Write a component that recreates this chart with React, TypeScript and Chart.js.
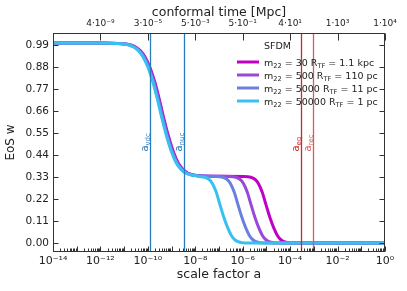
import React, { useEffect, useRef } from 'react';
import { Chart, registerables } from 'chart.js';

Chart.register(...registerables);

const FONT = "'DejaVu Sans', sans-serif";

// ---- data ----
const seriesLabels = [
  'm_{22} = 30 R_{TF} = 1.1 kpc',
  'm_{22} = 500 R_{TF} = 110 pc',
  'm_{22} = 5000 R_{TF} = 11 pc',
  'm_{22} = 50000 R_{TF} = 1 pc',
];
const seriesColors = ['#c000c4', '#9a48d8', '#6a80e0', '#38c0f0'];

// log10(scale factor) and EoS w
const m30LogA = [-14, -12, -11.22, -10.92, -10.72, -10.52, -10.32, -10.12, -9.92, -9.72, -9.52, -9.32, -9.12, -8.92, -8.72, -8.52, -8.32, -8.12, -7.92, -7.4, -5.94, -5.66, -5.5, -5.34, -5.18, -5.02, -4.86, -4.7, -4.54, -4.38, -4.22, -3.94, -2, 0];
const m30W = [1.0, 1.0, 0.998, 0.995, 0.99, 0.98, 0.962, 0.93, 0.88, 0.81, 0.72, 0.62, 0.53, 0.455, 0.4, 0.368, 0.35, 0.341, 0.337, 0.334, 0.333, 0.329, 0.32, 0.298, 0.255, 0.192, 0.13, 0.078, 0.038, 0.015, 0.005, 0.0, 0.0, 0.0];

const m500LogA = [-14, -12, -11.25, -10.95, -10.75, -10.55, -10.35, -10.15, -9.95, -9.75, -9.55, -9.35, -9.15, -8.95, -8.75, -8.55, -8.35, -8.15, -7.95, -7.4, -6.57, -6.29, -6.13, -5.97, -5.81, -5.65, -5.49, -5.33, -5.17, -5.01, -4.85, -4.57, -2, 0];
const m500W = [1.0, 1.0, 0.998, 0.995, 0.99, 0.98, 0.962, 0.93, 0.88, 0.81, 0.72, 0.62, 0.53, 0.455, 0.4, 0.368, 0.35, 0.341, 0.337, 0.334, 0.333, 0.329, 0.32, 0.298, 0.255, 0.192, 0.13, 0.078, 0.038, 0.015, 0.005, 0.0, 0.0, 0.0];

const m5000LogA = [-14, -12, -11.28, -10.98, -10.78, -10.58, -10.38, -10.18, -9.98, -9.78, -9.58, -9.38, -9.18, -8.98, -8.78, -8.58, -8.38, -8.18, -7.98, -7.6, -7.12, -6.84, -6.68, -6.52, -6.36, -6.2, -6.04, -5.88, -5.72, -5.56, -5.4, -5.12, -2, 0];
const m5000W = [1.0, 1.0, 0.998, 0.995, 0.99, 0.98, 0.962, 0.93, 0.88, 0.81, 0.72, 0.62, 0.53, 0.455, 0.4, 0.368, 0.35, 0.341, 0.337, 0.334, 0.333, 0.329, 0.32, 0.298, 0.255, 0.192, 0.13, 0.078, 0.038, 0.015, 0.005, 0.0, 0.0, 0.0];

const m50000LogA = [-14, -12, -11.3, -11, -10.8, -10.6, -10.4, -10.2, -10.0, -9.8, -9.6, -9.4, -9.2, -9.0, -8.8, -8.6, -8.4, -8.2, -8.0, -7.88, -7.6, -7.44, -7.28, -7.12, -6.96, -6.8, -6.64, -6.48, -6.32, -6.16, -5.88, -2, 0];
const m50000W = [1.0, 1.0, 0.998, 0.995, 0.99, 0.98, 0.962, 0.93, 0.88, 0.81, 0.72, 0.62, 0.53, 0.455, 0.4, 0.368, 0.35, 0.341, 0.337, 0.333, 0.329, 0.32, 0.298, 0.255, 0.192, 0.13, 0.078, 0.038, 0.015, 0.005, 0.0, 0.0, 0.0];

const seriesLogA = [m30LogA, m500LogA, m5000LogA, m50000LogA];
const seriesW = [m30W, m500W, m5000W, m50000W];

const yTicks = [0, 0.11, 0.22, 0.33, 0.44, 0.55, 0.66, 0.77, 0.88, 0.99];
const bottomTickExps = [-14, -13, -12, -11, -10, -9, -8, -7, -6, -5, -4, -3, -2, -1, 0];
const topTickExps = [-12, -10, -8, -6, -4, -2, 0];
const topTickLabels = ['4·10⁻⁹', '3·10⁻⁵', '5·10⁻³', '5·10⁻¹', '4·10¹', '1·10³', '1·10⁴'];

const eventA = [1.23e-10, 3.2e-9, 2.87e-4, 9.5e-4];
const eventLabels = ['a_{νdc}', 'a_{nuc}', 'a_{eq}', 'a_{rec}'];
const eventColors = ['#2a7bbd', '#2a7bbd', '#cc2a2a', '#de5a5a'];

const legendTitle = 'SFDM';
const xTitle = 'scale factor a';
const x2Title = 'conformal time [Mpc]';
const yTitle = 'EoS w';

// ---- helpers ----
const SUP: Record<string, string> = { '-': '⁻', '0': '⁰', '1': '¹', '2': '²', '3': '³', '4': '⁴', '5': '⁵', '6': '⁶', '7': '⁷', '8': '⁸', '9': '⁹' };
const sup = (s: string) => s.split('').map((c) => SUP[c] ?? c).join('');

function parseRich(s: string) {
  const parts: { t: string; sub: boolean }[] = [];
  const re = /_\{([^}]*)\}/g;
  let last = 0;
  let m;
  while ((m = re.exec(s))) {
    if (m.index > last) parts.push({ t: s.slice(last, m.index), sub: false });
    parts.push({ t: m[1], sub: true });
    last = m.index + m[0].length;
  }
  if (last < s.length) parts.push({ t: s.slice(last), sub: false });
  return parts;
}

function drawRich(ctx: CanvasRenderingContext2D, s: string, x: number, y: number, fs: number, color: string) {
  ctx.fillStyle = color;
  ctx.textBaseline = 'alphabetic';
  ctx.textAlign = 'left';
  let cx = x;
  for (const p of parseRich(s)) {
    const size = p.sub ? fs * 0.7 : fs;
    ctx.font = `${size}px ${FONT}`;
    ctx.fillText(p.t, cx, p.sub ? y + fs * 0.22 : y);
    cx += ctx.measureText(p.t).width;
  }
}

const decorPlugin = {
  id: 'decor',
  afterDatasetsDraw(chart: any) {
    const { ctx, chartArea: ca, scales } = chart;
    const xs = scales.x;
    const ys = scales.y;
    ctx.save();
    // vertical event lines
    eventA.forEach((a, i) => {
      const px = Math.round(xs.getPixelForValue(a)) + 0.5;
      ctx.strokeStyle = eventColors[i];
      ctx.lineWidth = 1.3;
      ctx.beginPath();
      ctx.moveTo(px, ca.top);
      ctx.lineTo(px, ca.bottom);
      ctx.stroke();
      ctx.save();
      ctx.translate(px - 2.5, ys.getPixelForValue(0.457));
      ctx.rotate(-Math.PI / 2);
      drawRich(ctx, eventLabels[i], 0, 0, 10, eventColors[i]);
      ctx.restore();
    });

    // legend
    const lx = ca.right - 148;
    const ty = ca.top + 14;
    ctx.font = `9.5px ${FONT}`;
    ctx.fillStyle = '#222';
    ctx.textBaseline = 'middle';
    ctx.textAlign = 'left';
    ctx.fillText(legendTitle, lx + 27, ty);
    seriesLabels.forEach((lab, i) => {
      const ry = ty + 15 + i * 13;
      ctx.strokeStyle = seriesColors[i];
      ctx.lineWidth = 3;
      ctx.beginPath();
      ctx.moveTo(lx, ry);
      ctx.lineTo(lx + 22, ry);
      ctx.stroke();
      drawRich(ctx, lab, lx + 27, ry + 3.5, 9.5, '#222');
    });

    // frame
    ctx.strokeStyle = '#333';
    ctx.lineWidth = 1;
    const L = Math.round(ca.left) + 0.5, R = Math.round(ca.right) - 0.5, T = Math.round(ca.top) + 0.5, B = Math.round(ca.bottom) - 0.5;
    ctx.strokeRect(L, T, R - L, B - T);

    ctx.beginPath();
    bottomTickExps.forEach((e) => {
      const px = Math.round(xs.getPixelForValue(Math.pow(10, e))) + 0.5;
      ctx.moveTo(px, B);
      ctx.lineTo(px, B - 5);
      if (e < 0) {
        for (let k = 2; k <= 9; k++) {
          const mx = Math.round(xs.getPixelForValue(k * Math.pow(10, e))) + 0.5;
          ctx.moveTo(mx, B);
          ctx.lineTo(mx, B - 3);
        }
      }
    });
    topTickExps.forEach((e) => {
      const px = Math.round(xs.getPixelForValue(Math.pow(10, e))) + 0.5;
      ctx.moveTo(px, T);
      ctx.lineTo(px, T + 7);
    });
    yTicks.forEach((v) => {
      const py = Math.round(ys.getPixelForValue(v)) + 0.5;
      ctx.moveTo(L, py);
      ctx.lineTo(L + 5, py);
      ctx.moveTo(R, py);
      ctx.lineTo(R - 5, py);
    });
    ctx.stroke();
    ctx.restore();
  },
};

export default function App() {
  const ref = useRef<HTMLCanvasElement>(null);
  useEffect(() => {
    document.body.style.margin = '0';
    const canvas = ref.current!;
    const datasets = seriesLabels.map((lab, i) => ({
      label: lab,
      data: seriesLogA[i].map((e, j) => ({ x: Math.pow(10, e), y: seriesW[i][j] })),
      borderColor: seriesColors[i],
      backgroundColor: seriesColors[i],
      borderWidth: 3,
      pointRadius: 0,
      cubicInterpolationMode: 'monotone' as const,
      fill: false,
      order: seriesLabels.length - 1 - i,
      xAxisID: 'x',
      yAxisID: 'y',
    }));
    const chart = new Chart(canvas, {
      type: 'line',
      data: { datasets },
      plugins: [decorPlugin],
      options: {
        animation: false,
        responsive: false,
        devicePixelRatio: 1,
        layout: { padding: { left: 0, right: 22, top: 0, bottom: 0 } },
        plugins: { legend: { display: false }, tooltip: { enabled: false } },
        scales: {
          x: {
            type: 'logarithmic',
            position: 'bottom',
            min: 1e-14,
            max: 1,
            afterBuildTicks: (s: any) => {
              s.ticks = bottomTickExps.map((e) => ({ value: Math.pow(10, e) }));
            },
            afterFit: (s: any) => {
              s.height = 39;
            },
            ticks: {
              autoSkip: false,
              maxRotation: 0,
              padding: 3,
              color: '#222',
              font: { family: FONT, size: 11 },
              callback: (v: any) => {
                const e = Math.round(Math.log10(Number(v)));
                return e % 2 === 0 ? '10' + sup(String(e)) : '';
              },
            },
            grid: { display: false, drawTicks: false },
            border: { display: false },
            title: { display: true, text: xTitle, color: '#222', font: { family: FONT, size: 12.5 }, padding: { top: 0, bottom: 9 } },
          },
          x2: {
            type: 'logarithmic',
            position: 'top',
            min: 1e-14,
            max: 1,
            afterBuildTicks: (s: any) => {
              s.ticks = topTickExps.map((e) => ({ value: Math.pow(10, e) }));
            },
            afterFit: (s: any) => {
              s.height = 33;
            },
            ticks: {
              autoSkip: false,
              maxRotation: 0,
              padding: 4,
              color: '#222',
              font: { family: FONT, size: 9 },
              callback: (_v: any, idx: number) => topTickLabels[idx],
            },
            grid: { display: false, drawTicks: false },
            border: { display: false },
            title: { display: true, text: x2Title, color: '#222', font: { family: FONT, size: 12.5 }, padding: { top: 5, bottom: 0 } },
          },
          y: {
            type: 'linear',
            position: 'left',
            min: -0.045,
            max: 1.05,
            afterBuildTicks: (s: any) => {
              s.ticks = yTicks.map((v) => ({ value: v }));
            },
            afterFit: (s: any) => {
              s.width = 53;
            },
            ticks: {
              autoSkip: false,
              padding: 4,
              color: '#222',
              font: { family: FONT, size: 10.5 },
              callback: (v: any) => Number(v).toFixed(2),
            },
            grid: { display: false, drawTicks: false },
            border: { display: false },
            title: { display: true, text: yTitle, color: '#222', font: { family: FONT, size: 12 }, padding: { top: 4, bottom: 0 } },
          },
        },
      },
    });
    return () => chart.destroy();
  }, []);
  return (
    <div style={{ width: 407, height: 291 }}>
      <canvas ref={ref} width={407} height={291} style={{ display: 'block' }} />
    </div>
  );
}
